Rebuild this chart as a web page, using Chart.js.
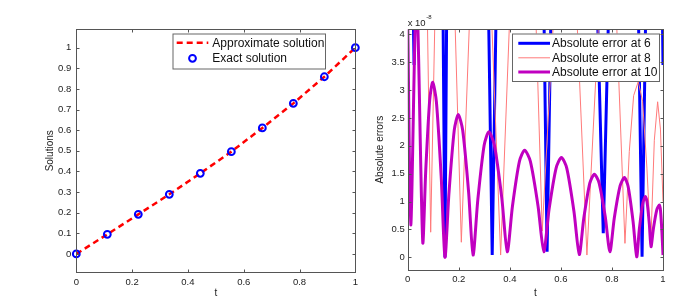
<!DOCTYPE html>
<html><head><meta charset="utf-8">
<script src="https://cdn.jsdelivr.net/npm/chart.js@4.4.1/dist/chart.umd.min.js"></script>
<style>
html,body{margin:0;padding:0;background:#fff;}
#wrap{position:relative;width:698px;height:306px;overflow:hidden;background:#fff;}
canvas{position:absolute;top:0;}
</style></head><body>
<div id="wrap">
<canvas id="c1" width="362" height="306" style="left:0;width:362px;height:306px"></canvas>
<canvas id="c2" width="336" height="306" style="left:362px;width:336px;height:306px"></canvas>
</div>
<script>
// ---------- data ----------
const leftT = [0, 0.1111, 0.2222, 0.3333, 0.4444, 0.5556, 0.6667, 0.7778, 0.8889, 1];
const approxValues = [0, 0.095, 0.192, 0.289, 0.391, 0.496, 0.611, 0.730, 0.859, 1.0];
const exactValues  = [0, 0.095, 0.192, 0.289, 0.391, 0.496, 0.611, 0.730, 0.859, 1.0];
const leftXTicks = [0, 0.2, 0.4, 0.6, 0.8, 1];
const leftYTicks = [0, 0.1, 0.2, 0.3, 0.4, 0.5, 0.6, 0.7, 0.8, 0.9, 1];
const rightXTicks = [0, 0.2, 0.4, 0.6, 0.8, 1];
const rightYTicks = [0, 0.5, 1, 1.5, 2, 2.5, 3, 3.5, 4];

// absolute errors (units of 1e-8); values above 4.09 are off the top of the axes
const err6T = [0, 0.021, 0.025, 0.029, 0.138, 0.146, 0.153, 0.316, 0.331, 0.347, 0.533, 0.546, 0.562, 0.742, 0.766, 0.788, 0.903, 0.918, 0.933, 0.997, 1.0];
const err6V = [4.6, 4.6, 3.45, 4.6, 4.6, 0.0, 4.6, 4.6, 0.04, 4.6, 4.6, 0.1, 4.6, 4.6, 0.43, 4.6, 4.6, 0.01, 4.6, 4.6, 3.45];

const err8T = [0, 0.076, 0.09, 0.108, 0.183, 0.21, 0.245, 0.326, 0.364, 0.402, 0.500, 0.527, 0.575, 0.66, 0.702, 0.752, 0.815, 0.851, 0.868, 0.885, 0.903, 0.92, 0.937, 0.952, 0.966, 0.979, 0.99, 1.0];
const err8V = [4.6, 4.6, 0.45, 4.6, 4.6, 0.27, 4.6, 4.6, 0.04, 4.6, 4.6, 0.47, 4.6, 4.6, 0.04, 4.6, 4.6, 0.25, 1.9, 2.9, 3.15, 2.8, 1.6, 0.22, 2.1, 2.79, 2.3, 1.0];

const err10T = [0, 0.012, 0.029, 0.034, 0.040, 0.059,
  0.0707, 0.0863, 0.098, 0.1124, 0.1316, 0.146,
  0.1616, 0.1824, 0.198, 0.2154, 0.2386, 0.256,
  0.2746, 0.2994, 0.318, 0.3396, 0.3684, 0.39,
  0.4104, 0.4376, 0.458, 0.4805, 0.5105, 0.533,
  0.5537, 0.5813, 0.602, 0.623, 0.651, 0.672,
  0.6897, 0.7133, 0.731, 0.7493, 0.7737, 0.792,
  0.8091, 0.8319, 0.849, 0.8634, 0.8826, 0.897,
  0.9072, 0.9208, 0.931, 0.9376, 0.9464, 0.953,
  0.9629, 0.9761, 0.986, 0.9902, 0.9958, 1.0];
const err10V = [4.3, 0.58, 4.12, 4.4, 4.12, 0.27,
  1.56, 2.83, 3.14, 2.79, 1.41, 0.0,
  1.15, 2.28, 2.56, 2.28, 1.17, 0.04,
  1.03, 2.01, 2.25, 2.01, 1.07, 0.1,
  0.92, 1.72, 1.92, 1.72, 0.92, 0.1,
  0.86, 1.60, 1.79, 1.60, 0.83, 0.05,
  0.70, 1.33, 1.49, 1.34, 0.73, 0.1,
  0.70, 1.28, 1.43, 1.27, 0.65, 0.01,
  0.50, 0.97, 1.09, 0.99, 0.60, 0.19,
  0.53, 0.86, 0.94, 0.84, 0.45, 0.04];

// ---------- helpers ----------
const FAM = '"Liberation Sans", Arial, Helvetica, sans-serif';
Chart.defaults.font.family = FAM;
Chart.defaults.color = '#222';
const pts = (xs, ys) => xs.map((x, i) => ({x: x, y: ys[i]}));
const fmt = v => String(Math.round(v * 10) / 10);
const setTicks = arr => (s => { s.ticks = arr.map(v => ({value: v})); });

const framePlugin = {
  id: 'frame',
  afterDatasetsDraw(chart) {
    const {ctx, chartArea: a, scales} = chart;
    const L = 3;
    ctx.save();
    ctx.strokeStyle = '#555';
    ctx.lineWidth = 1;
    const l = Math.round(a.left) + 0.5, r = Math.round(a.right) + 0.5;
    const t = Math.round(a.top) + 0.5, b = Math.round(a.bottom) + 0.5;
    ctx.strokeRect(l, t, r - l, b - t);
    ctx.beginPath();
    scales.x.ticks.forEach(tk => {
      const px = Math.round(scales.x.getPixelForValue(tk.value)) + 0.5;
      ctx.moveTo(px, b); ctx.lineTo(px, b - L);
      ctx.moveTo(px, t); ctx.lineTo(px, t + L);
    });
    scales.y.ticks.forEach(tk => {
      const py = Math.round(scales.y.getPixelForValue(tk.value)) + 0.5;
      ctx.moveTo(l, py); ctx.lineTo(l + L, py);
      ctx.moveTo(r, py); ctx.lineTo(r - L, py);
    });
    ctx.stroke();
    ctx.restore();
  }
};

const boxLegend = {
  id: 'boxLegend',
  afterDraw(chart, args, o) {
    const ctx = chart.ctx;
    ctx.save();
    ctx.fillStyle = '#fff';
    ctx.fillRect(o.x, o.y, o.w, o.h);
    ctx.strokeStyle = '#666';
    ctx.lineWidth = 1;
    ctx.strokeRect(o.x + 0.5, o.y + 0.5, o.w, o.h);
    ctx.font = '12px ' + FAM;
    ctx.textBaseline = 'middle';
    chart.data.datasets.forEach((ds, i) => {
      const y = o.rows[i];
      if (ds.showLine !== false) {
        ctx.strokeStyle = ds.borderColor;
        ctx.lineWidth = ds.borderWidth;
        ctx.setLineDash(ds.borderDash || []);
        ctx.beginPath();
        ctx.moveTo(o.lx0, y); ctx.lineTo(o.lx1, y);
        ctx.stroke();
        ctx.setLineDash([]);
      } else {
        ctx.strokeStyle = ds.pointBorderColor;
        ctx.lineWidth = ds.pointBorderWidth;
        ctx.beginPath();
        ctx.arc((o.lx0 + o.lx1) / 2, y, ds.pointRadius, 0, Math.PI * 2);
        ctx.stroke();
      }
      ctx.fillStyle = '#111';
      ctx.fillText(ds.label, o.tx, y + 0.5);
    });
    ctx.restore();
  }
};

const expPlugin = {
  id: 'expLabel',
  afterDraw(chart, args, o) {
    const ctx = chart.ctx;
    ctx.save();
    ctx.fillStyle = '#222';
    ctx.textBaseline = 'alphabetic';
    ctx.font = '9.5px ' + FAM;
    ctx.fillText('x 10', o.x, o.y);
    const w = ctx.measureText('x 10').width;
    ctx.font = '6px ' + FAM;
    ctx.fillText('-8', o.x + w + 0.5, o.y - 7);
    ctx.restore();
  }
};

function xScale(ticks, h) {
  return {
    type: 'linear', min: 0, max: 1,
    afterBuildTicks: setTicks(ticks),
    afterFit: s => { s.height = h; },
    grid: {display: false, drawTicks: false},
    border: {display: false},
    ticks: {padding: 4, font: {size: 9.5}, color: '#222', maxRotation: 0, autoSkip: false, callback: fmt},
    title: {display: true, text: 't', font: {size: 10}, color: '#222', padding: {top: 0, bottom: 7}}
  };
}
function yScale(ticks, mn, mx, w, title, tpad, lpad) {
  return {
    type: 'linear', min: mn, max: mx,
    afterBuildTicks: setTicks(ticks),
    afterFit: s => { s.width = w; },
    grid: {display: false, drawTicks: false},
    border: {display: false},
    ticks: {padding: lpad, font: {size: 9.5}, color: '#222', autoSkip: false, callback: fmt},
    title: {display: true, text: title, font: {size: 10}, color: '#222', padding: {top: tpad, bottom: 0}}
  };
}

// ---------- left chart ----------
new Chart(document.getElementById('c1'), {
  type: 'line',
  data: {
    datasets: [
      {label: 'Approximate solution', data: pts(leftT, approxValues), borderColor: '#ff0000', borderWidth: 2.5,
       borderDash: [6, 4], pointRadius: 0, fill: false, tension: 0, order: 2, clip: 0},
      {label: 'Exact solution', data: pts(leftT, exactValues), showLine: false, pointRadius: 3.4,
       pointBorderWidth: 2, pointBorderColor: '#0000ff', pointBackgroundColor: 'rgba(0,0,0,0)',
       borderColor: '#0000ff', order: 1, clip: false}
    ]
  },
  options: {
    responsive: false, animation: false, devicePixelRatio: 1,
    layout: {padding: {left: 0, right: 4.5, top: 29.3, bottom: 0}},
    scales: {
      x: xScale(leftXTicks, 33.7),
      y: yScale(leftYTicks, -0.089, 1.089, 76.3, 'Solutions', 44, 5)
    },
    plugins: {
      legend: {display: false}, tooltip: {enabled: false},
      boxLegend: {x: 172.5, y: 33.5, w: 152.5, h: 35, rows: [42.8, 58.3], lx0: 176.7, lx1: 208.3, tx: 212.3}
    }
  },
  plugins: [framePlugin, boxLegend]
});

// ---------- right chart ----------
new Chart(document.getElementById('c2'), {
  type: 'line',
  data: {
    datasets: [
      {label: 'Absolute error at 6', data: pts(err6T, err6V), borderColor: '#0000ff', borderWidth: 3,
       pointRadius: 0, fill: false, tension: 0, order: 3, clip: 0},
      {label: 'Absolute error at 8', data: pts(err8T, err8V), borderColor: '#ff7a7a', borderWidth: 1,
       pointRadius: 0, fill: false, tension: 0, order: 2, clip: 0},
      {label: 'Absolute error at 10', data: pts(err10T, err10V), borderColor: '#c000c0', borderWidth: 3,
       pointRadius: 0, fill: false, tension: 0.25, order: 1, clip: 0}
    ]
  },
  options: {
    responsive: false, animation: false, devicePixelRatio: 1,
    layout: {padding: {left: 0, right: 35, top: 29.3, bottom: 0}},
    scales: {
      x: xScale(rightXTicks, 36),
      y: yScale(rightYTicks, -0.228, 4.09, 45.7, 'Absolute errors', 12.7, 3)
    },
    plugins: {
      legend: {display: false}, tooltip: {enabled: false},
      boxLegend: {x: 150, y: 33.5, w: 147, h: 47.5, rows: [43.3, 57.8, 72], lx0: 156.3, lx1: 188, tx: 190},
      expLabel: {x: 45.7, y: 25.5}
    }
  },
  plugins: [framePlugin, boxLegend, expPlugin]
});
</script>
</body></html>
